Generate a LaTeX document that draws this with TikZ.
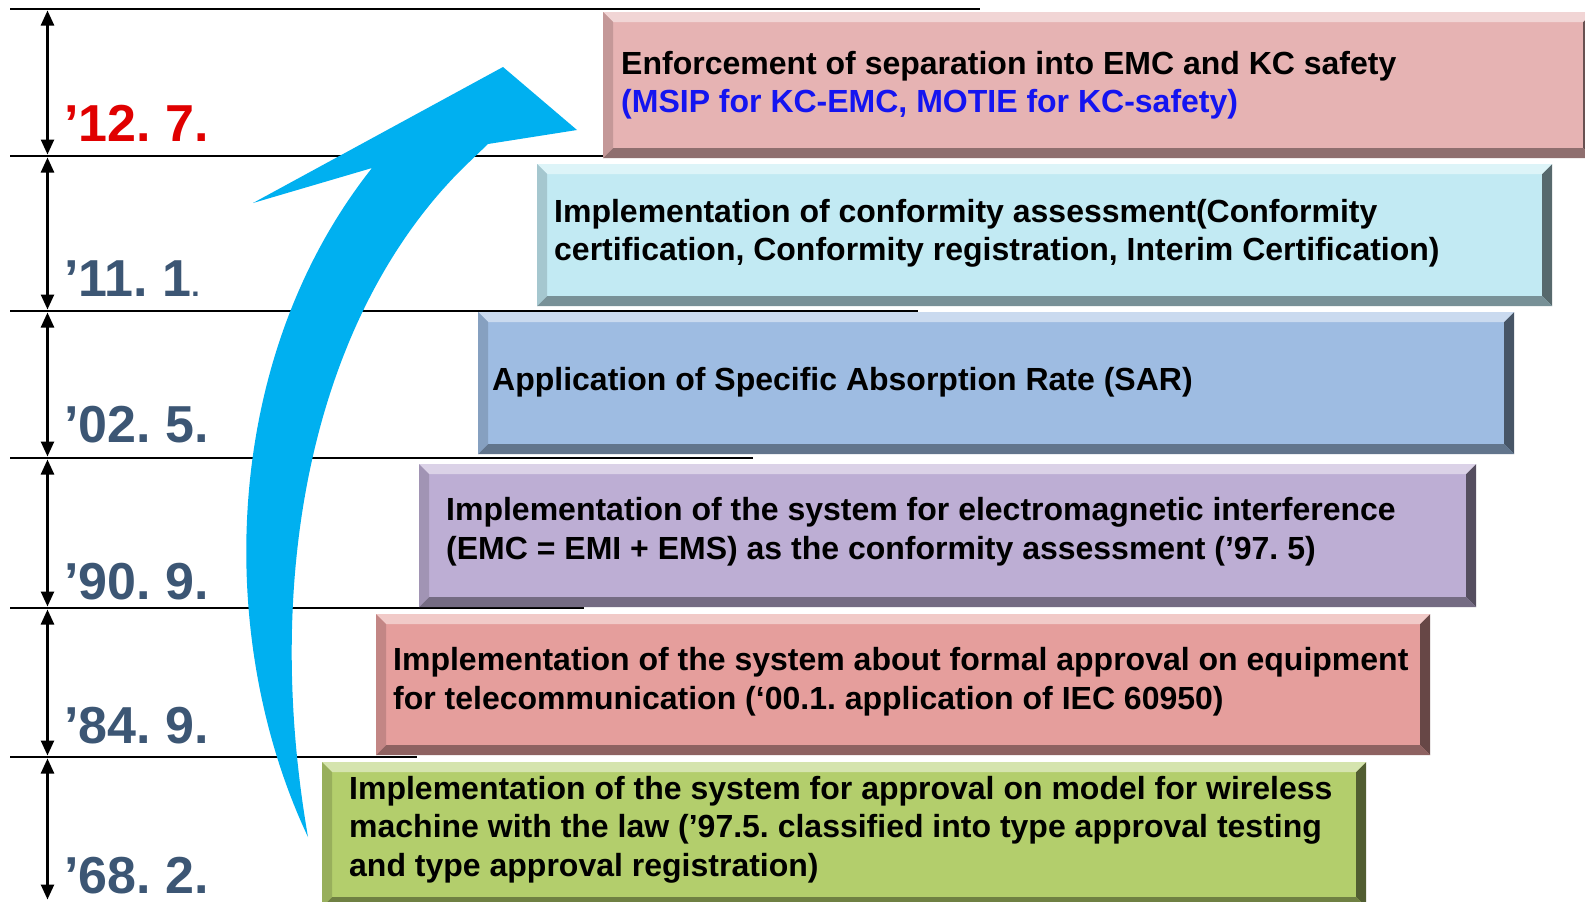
\documentclass[tikz,border=0pt]{standalone}
\usepackage{fontspec}
\setmainfont{Liberation Sans}
\frenchspacing
\usetikzlibrary{arrows.meta}
\definecolor{arrowblue}{RGB}{0,176,240}
\definecolor{yearblue}{RGB}{60,86,116}
\definecolor{yearred}{RGB}{224,0,0}
\definecolor{cA}{RGB}{230,179,179}
\definecolor{cB}{RGB}{194,234,243}
\definecolor{cC}{RGB}{158,188,226}
\definecolor{cD}{RGB}{189,174,212}
\definecolor{cE}{RGB}{229,158,156}
\definecolor{cF}{RGB}{179,206,108}
\definecolor{textblue}{RGB}{20,20,240}
\tikzset{
  bevelbox/.style={rectangle, inner sep=0pt, anchor=north west, fill=#1,
    path picture={
      \fill[#1!55!white] (path picture bounding box.north west) -- (path picture bounding box.north east)
        -- ([shift={(-10pt,-10pt)}]path picture bounding box.north east) -- ([shift={(10pt,-10pt)}]path picture bounding box.north west) -- cycle;
      \fill[#1!85!black] (path picture bounding box.north west) -- ([shift={(10pt,-10pt)}]path picture bounding box.north west)
        -- ([shift={(10pt,10pt)}]path picture bounding box.south west) -- (path picture bounding box.south west) -- cycle;
      \fill[#1!45!black] (path picture bounding box.north east) -- ([shift={(-10pt,-10pt)}]path picture bounding box.north east)
        -- ([shift={(-10pt,10pt)}]path picture bounding box.south east) -- (path picture bounding box.south east) -- cycle;
      \fill[#1!62!black] (path picture bounding box.south west) -- ([shift={(10pt,10pt)}]path picture bounding box.south west)
        -- ([shift={(-10pt,10pt)}]path picture bounding box.south east) -- (path picture bounding box.south east) -- cycle;
    }},
  boxtext/.style={anchor=west, inner sep=0pt, align=left, font=\fontsize{32}{38.3}\selectfont\bfseries\frenchspacing},
  year/.style={anchor=base west, inner sep=0pt, text=yearblue, font=\fontsize{52}{60}\selectfont\bfseries},
  hline/.style={line width=2pt, black},
  vspan/.style={line width=2.5pt, {Triangle[length=15pt,width=13pt]}-{Triangle[length=15pt,width=13pt]}, shorten <=1.5pt, shorten >=1.5pt},
}
\begin{document}
\begin{tikzpicture}[x=1pt,y=-1pt]
\useasboundingbox (0,0) rectangle (1585,902);
\fill[white] (0,0) rectangle (1585,902);
% horizontal lines
\coordinate (h0a) at (10,9);   \coordinate (h0b) at (980,9);
\coordinate (h1a) at (10,156); \coordinate (h1b) at (605,156);
\coordinate (h2a) at (10,311); \coordinate (h2b) at (918,311);
\coordinate (h3a) at (10,458); \coordinate (h3b) at (753,458);
\coordinate (h4a) at (10,608); \coordinate (h4b) at (584,608);
\coordinate (h5a) at (10,757); \coordinate (h5b) at (417,757);
\foreach \n in {0,...,5} {\draw[hline] (h\n a) -- (h\n b);}
% vertical spans
\coordinate (v0) at (47.5,9);
\coordinate (v1) at (47.5,156);
\coordinate (v2) at (47.5,311);
\coordinate (v3) at (47.5,458);
\coordinate (v4) at (47.5,608);
\coordinate (v5) at (47.5,757);
\coordinate (v6) at (47.5,901);
\draw[vspan] (v0) -- (v1);
\draw[vspan] (v1) -- (v2);
\draw[vspan] (v2) -- (v3);
\draw[vspan] (v3) -- (v4);
\draw[vspan] (v4) -- (v5);
\draw[vspan] (v5) -- (v6);
% years
\node[year, text=yearred] (y1) at (64,141.5) {’12.~7.};
\node[year] (y2) at (64,296) {’11.~1{\fontsize{30}{30}\selectfont.}};
\node[year] (y3) at (64,442) {’02.~5.};
\node[year] (y4) at (64,599) {’90.~9.};
\node[year] (y5) at (64,743) {’84.~9.};
\node[year] (y6) at (64,893) {’68.~2.};
% blue arrow
\fill[arrowblue] (372,168) -- (253,203) -- (503,67) -- (577,130) -- (488,144) -- (463,168)
  .. controls (320,310) and (260,560) .. (308,837)
  .. controls (215,640) and (220,360) .. (372,168) -- cycle;
% boxes
\node[bevelbox=cA, minimum width=990pt, minimum height=146pt] (b1) at (603,12) {};
\node[bevelbox=cB, minimum width=1015pt, minimum height=142pt] (b2) at (537,164) {};
\node[bevelbox=cC, minimum width=1036pt, minimum height=142pt] (b3) at (478,312) {};
\node[bevelbox=cD, minimum width=1057pt, minimum height=143pt] (b4) at (419,464) {};
\node[bevelbox=cE, minimum width=1054pt, minimum height=141pt] (b5) at (376,614) {};
\node[bevelbox=cF, minimum width=1044pt, minimum height=145pt] (b6) at (322,762) {};
\node[boxtext] (t1) at ([xshift=18pt,yshift=0pt]b1.west) {Enforcement of separation into EMC and KC safety\\ \textcolor{textblue}{(MSIP for KC-EMC, MOTIE for KC-safety)}};
\node[boxtext] (t2) at ([xshift=17pt,yshift=2pt]b2.west) {Implementation of conformity assessment(Conformity\\ certification, Conformity registration, Interim Certification)};
\node[boxtext] (t3) at ([xshift=14pt,yshift=1pt]b3.west) {Application of Specific Absorption Rate (SAR)};
\node[boxtext] (t4) at ([xshift=27pt,yshift=4pt]b4.west) {Implementation of the system for electromagnetic interference\\ (EMC = EMI + EMS) as the conformity assessment (’97. 5)};
\node[boxtext] (t5) at ([xshift=17pt,yshift=3pt]b5.west) {Implementation of the system about formal approval on equipment\\ for telecommunication (‘00.1. application of IEC 60950)};
\node[boxtext] (t6) at ([xshift=27pt,yshift=5pt]b6.west) {Implementation of the system for approval on model for wireless\\ machine with the law (’97.5. classified into type approval testing\\ and type approval registration)};
\end{tikzpicture}
\end{document}
